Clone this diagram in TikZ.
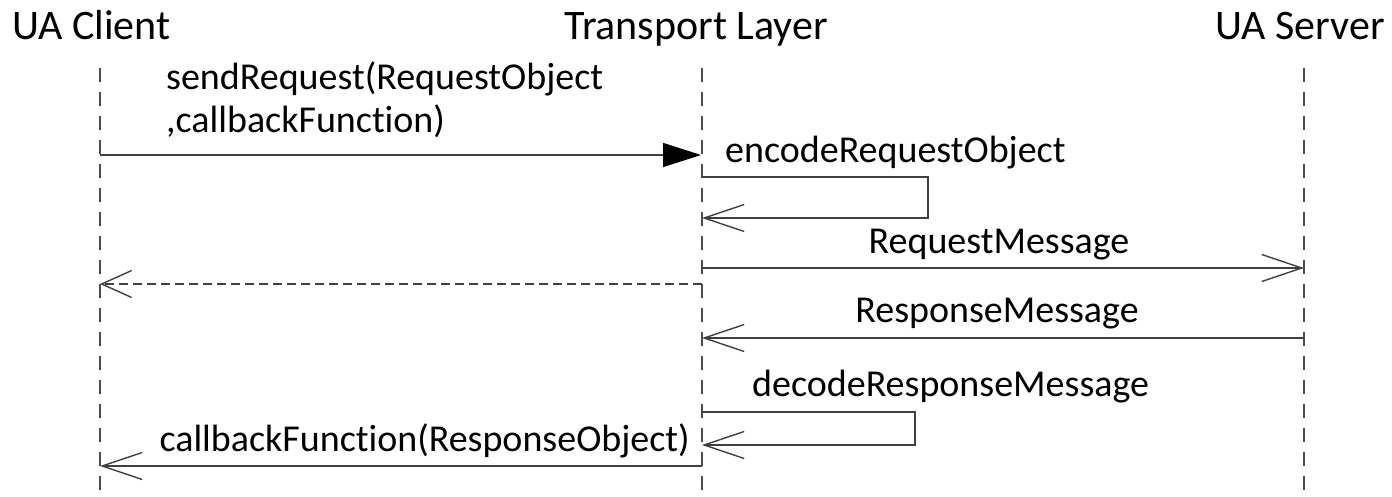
\documentclass[tikz,border=0pt]{standalone}
\usepackage{fontspec}
\setmainfont{Carlito}[Ligatures=NoCommon]
\usetikzlibrary{arrows.meta}
\begin{document}
\begin{tikzpicture}[x=1pt,y=-1pt,
  title/.style={font=\fontsize{42}{46}\selectfont, inner sep=0pt, anchor=base},
  lbl/.style={font=\fontsize{38}{42}\selectfont, inner sep=0pt, anchor=base},
  lifeline/.style={draw=black!70, line width=1.3pt, dash pattern=on 14pt off 10pt},
  msg/.style={draw=black!75, line width=1.4pt},
  openhead/.style={-{Straight Barb[length=40pt,width=27pt,line width=1.4pt]}},
  filledhead/.style={-{Triangle[length=38pt,width=24pt,fill=black,color=black]}},
  ret/.style={msg, dashed, dash pattern=on 9pt off 5pt}]
\useasboundingbox (0,0) rectangle (1392,497);
% titles
\node[title, anchor=base west] (cl) at (12,40) {UA Client};
\node[title] (tl) at (696,40) {Transport Layer};
\node[title, anchor=base east] (sv) at (1385,40) {UA Server};
% lifelines
\coordinate (c0) at (100,68); \coordinate (c1) at (100,497);
\coordinate (t0) at (702,68); \coordinate (t1) at (702,497);
\coordinate (s0) at (1304,68); \coordinate (s1) at (1304,497);
\draw[lifeline] (c0) -- (c1);
\draw[lifeline] (t0) -- (t1);
\draw[lifeline] (s0) -- (s1);
% message 1
\coordinate (m1a) at (100,155); \coordinate (m1b) at (701,155);
\draw[msg, filledhead] (m1a) -- (m1b);
\node[lbl, anchor=base west] (l1a) at (166,90) {sendRequest(RequestObject};
\node[lbl, anchor=base west] (l1b) at (166,133) {,callbackFunction)};
% self message encode
\coordinate (e0) at (702,177); \coordinate (e1) at (928,177);
\coordinate (e2) at (928,218); \coordinate (e3) at (702,218);
\draw[msg, openhead] (e0) -- (e1) -- (e2) -- (e3);
\node[lbl, anchor=base west] (l2) at (725,163) {encodeRequestObject};
% RequestMessage
\coordinate (r0) at (702,268); \coordinate (r1) at (1304,268);
\draw[msg, openhead] (r0) -- (r1);
\node[lbl] (l3) at (999,254) {RequestMessage};
% dashed return
\coordinate (d0) at (702,284); \coordinate (d1) at (100,284);
\draw[ret, -{Straight Barb[length=30pt,width=27pt,line width=1.4pt]}] (d0) -- (d1);
% ResponseMessage
\coordinate (p0) at (1304,338); \coordinate (p1) at (702,338);
\draw[msg, openhead] (p0) -- (p1);
\node[lbl] (l4) at (997,322) {ResponseMessage};
% decode
\coordinate (f0) at (702,412); \coordinate (f1) at (915,412);
\coordinate (f2) at (915,445); \coordinate (f3) at (702,445);
\draw[msg, openhead] (f0) -- (f1) -- (f2) -- (f3);
\node[lbl, anchor=base west] (l5) at (752,396) {decodeResponseMessage};
% callback
\coordinate (g0) at (702,466); \coordinate (g1) at (100,466);
\draw[msg, openhead] (g0) -- (g1);
\node[lbl, anchor=base east] (l6) at (690,451) {callbackFunction(ResponseObject)};
\end{tikzpicture}
\end{document}
